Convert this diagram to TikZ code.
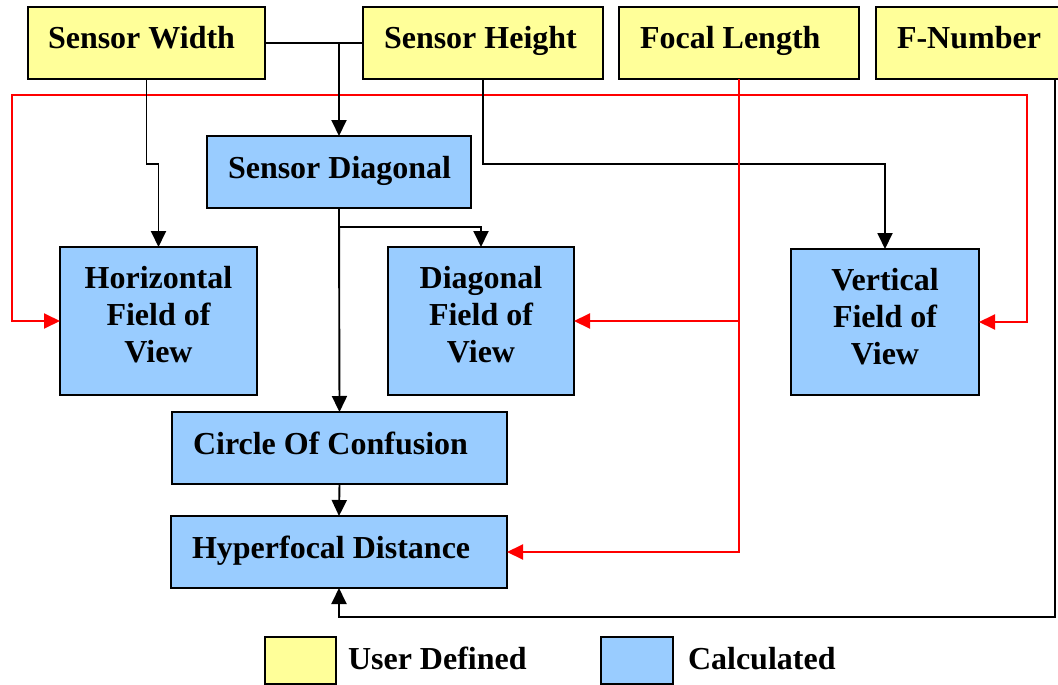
\documentclass[tikz,border=0pt]{standalone}
\usepackage{fontspec}
\setmainfont{Liberation Serif}
\usetikzlibrary{arrows.meta}
\definecolor{uyellow}{HTML}{FFFF99}
\definecolor{cblue}{HTML}{99CCFF}
\definecolor{lred}{HTML}{FF0000}
\tikzset{
  box/.style={draw=black, line width=1.8pt, inner sep=0pt, outer sep=0pt, anchor=north west},
  userbox/.style={box, fill=uyellow},
  calcbox/.style={box, fill=cblue},
  lbl/.style={inner sep=0pt, outer sep=0pt, font=\fontsize{32}{37}\selectfont\bfseries},
  conn/.style={draw=black, line width=1.9pt},
  redconn/.style={draw=lred, line width=2pt},
  arr/.style={-{Triangle[length=16pt,width=15pt]}},
  rarr/.style={{Triangle[length=16pt,width=15pt]}-{Triangle[length=16pt,width=15pt]}}
}
\begin{document}
\begin{tikzpicture}[x=1pt,y=-1pt]
\clip (0,0) rectangle (1058,685);
\fill[white] (0,0) rectangle (1058,685);
% boxes
\node[userbox, minimum width=237pt, minimum height=72pt] (sw) at (28,7) {};
\node[userbox, minimum width=240pt, minimum height=72pt] (sh) at (363,7) {};
\node[userbox, minimum width=240pt, minimum height=72pt] (fl) at (619,7) {};
\node[userbox, minimum width=195pt, minimum height=72pt] (fn) at (876,7) {};
\node[calcbox, minimum width=264pt, minimum height=72pt] (sd) at (207,136) {};
\node[calcbox, minimum width=197pt, minimum height=148pt] (hfov) at (60,247) {};
\node[calcbox, minimum width=186pt, minimum height=148pt] (dfov) at (388,247) {};
\node[calcbox, minimum width=188pt, minimum height=146pt] (vfov) at (791,249) {};
\node[calcbox, minimum width=335pt, minimum height=72pt] (coc) at (172,412) {};
\node[calcbox, minimum width=336pt, minimum height=72pt] (hd) at (171,516) {};
\node[userbox, minimum width=71pt, minimum height=47pt] (leg1) at (265,637) {};
\node[calcbox, minimum width=72pt, minimum height=47pt] (leg2) at (601,637) {};
% texts
\node[lbl, anchor=base west] (swt) at (48,49) {Sensor Width};
\node[lbl, anchor=base west] (sht) at (384,49) {Sensor Height};
\node[lbl, anchor=base west] (flt) at (640,49) {Focal Length};
\node[lbl, anchor=base west] (fnt) at (897,49) {F-Number};
\node[lbl, anchor=base west] (sdt) at (228,178) {Sensor Diagonal};
\node[lbl, anchor=base west] (coct) at (193,454) {Circle Of Confusion};
\node[lbl, anchor=base west] (hdt) at (192,558) {Hyperfocal Distance};
\node[lbl, anchor=base] (hfovt) at (158.5,288) {\begin{tabular}[t]{@{}c@{}}Horizontal\\Field of\\View\end{tabular}};
\node[lbl, anchor=base] (dfovt) at (481,288) {\begin{tabular}[t]{@{}c@{}}Diagonal\\Field of\\View\end{tabular}};
\node[lbl, anchor=base] (vfovt) at (885,290) {\begin{tabular}[t]{@{}c@{}}Vertical\\Field of\\View\end{tabular}};
\node[lbl, anchor=base west] (leg1t) at (348,669) {User Defined};
\node[lbl, anchor=base west] (leg2t) at (688,669) {Calculated};
% helper coordinates
\coordinate (L) at (12,95);
\coordinate (R) at (1027,95);
\coordinate (fnx) at (1055,79);
\coordinate (fny) at (1055,617);
\coordinate (swy) at (0,164);
\coordinate (ddy) at (0,227);
% red loop (drawn below black)
\draw[redconn, rarr] (hfov.west) -- (hfov.west -| L) -- (L) -- (R) -- (vfov.east -| R) -- (vfov.east);
% black connectors
\draw[conn] (sw.east) -- (sh.west);
\draw[conn, arr] (sd.north |- sw.east) -- (sd.north);
\draw[conn, arr] (sw.south) -- (sw.south |- swy) -- (hfov.north |- swy) -- (hfov.north);
\draw[conn, arr] (sh.south) -- (sh.south |- swy) -- (vfov.north |- swy) -- (vfov.north);
\draw[conn, arr] (sd.south) -- (coc.north);
\draw[conn, arr] (sd.south |- ddy) -- (dfov.north |- ddy) -- (dfov.north);
\draw[conn, arr] (coc.south) -- (hd.north);
\draw[conn, arr] (fnx) -- (fny) -- (hd.south |- fny) -- (hd.south);
% red focal length connectors
\draw[redconn, arr] (fl.south) -- (fl.south |- hd.east) -- (hd.east);
\draw[redconn, arr] (fl.south |- dfov.east) -- (dfov.east);
\end{tikzpicture}
\end{document}
